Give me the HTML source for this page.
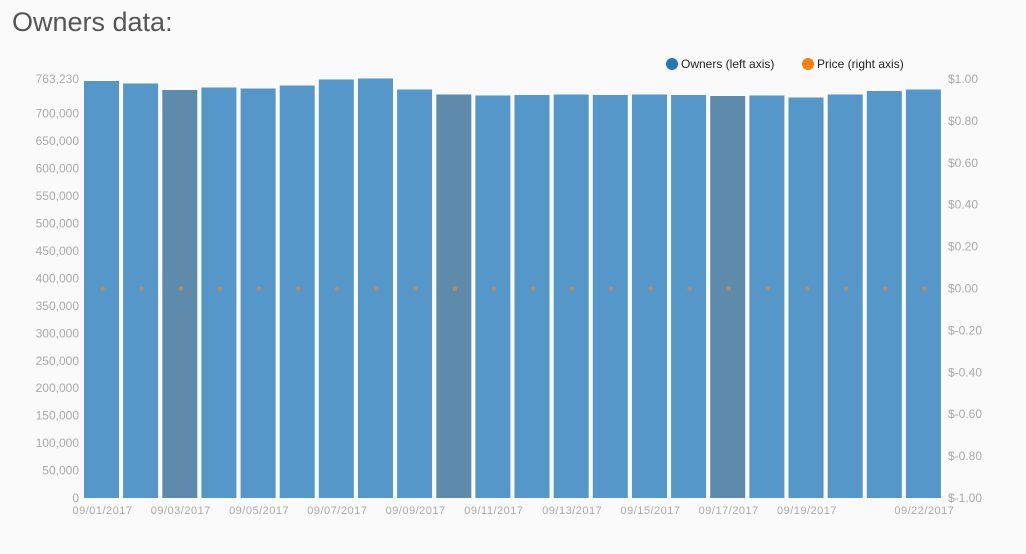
<!DOCTYPE html>
<html><head><meta charset="utf-8"><style>
html,body{margin:0;padding:0;background:#fafafa;width:1026px;height:554px;overflow:hidden}
svg{display:block}
text{font-family:"Liberation Sans",sans-serif}
</style></head><body>
<svg id="s" width="1026" height="554" xmlns="http://www.w3.org/2000/svg">
<text x="12" y="31" font-size="27" fill="#555" font-weight="300">Owners data:</text>
<circle cx="672" cy="64" r="6" fill="#1f77b4"/>
<text x="681" y="68" font-size="12" fill="#222">Owners (left axis)</text>
<circle cx="808" cy="64" r="6" fill="#ff7f0e"/>
<text x="817" y="68" font-size="12" fill="#222">Price (right axis)</text>
<g id="g"></g>
</svg>
<script>
var g=document.getElementById('g'),h='';
var tops=[81,83.5,90,87.5,88.5,85.5,79.5,78.5,89.5,94.5,95.5,95,94.5,95,94.5,95,96,95.5,97.5,94.5,91,89.5];
var dark={2:1,9:1,16:1};
for(var i=0;i<22;i++){
 var x=84+i*39.14;
 h+='<rect x="'+x.toFixed(1)+'" y="'+tops[i]+'" width="35" height="'+(498-tops[i])+'" fill="'+(dark[i]?'#5e8bab':'#5497c8')+'"/>';
 h+='<circle cx="'+(x+18.5).toFixed(1)+'" cy="288.5" r="2.3" fill="#d0894a" opacity="0.8"/>';
}
h+='<text x="79" y="83" font-size="12" fill="#aaa" text-anchor="end">763,230</text>';
for(var k=0;k<=14;k++){
 var v=k*50000,y=498-k*27.45;
 var lab=v===0?'0':v.toLocaleString('en-US');
 h+='<text x="79" y="'+(y+4).toFixed(1)+'" font-size="12" fill="#aaa" text-anchor="end">'+lab+'</text>';
}
for(var k=0;k<=10;k++){
 var v=-1+k*0.2,y=498-k*41.9;
 var s=v<-0.001?'$-'+Math.abs(v).toFixed(2):'$'+Math.abs(v).toFixed(2);
 h+='<text x="948" y="'+(y+4).toFixed(1)+'" font-size="12" fill="#aaa">'+s+'</text>';
}
var xl=[[0,'09/01/2017'],[2,'09/03/2017'],[4,'09/05/2017'],[6,'09/07/2017'],[8,'09/09/2017'],[10,'09/11/2017'],[12,'09/13/2017'],[14,'09/15/2017'],[16,'09/17/2017'],[18,'09/19/2017'],[21,'09/22/2017']];
xl.forEach(function(a){
 var cx=84+a[0]*39.14+18.5;
 h+='<text x="'+cx.toFixed(1)+'" y="514" font-size="11" fill="#aaa" text-anchor="middle" letter-spacing="0.5">'+a[1]+'</text>';
});
g.innerHTML=h;
</script>
</body></html>
